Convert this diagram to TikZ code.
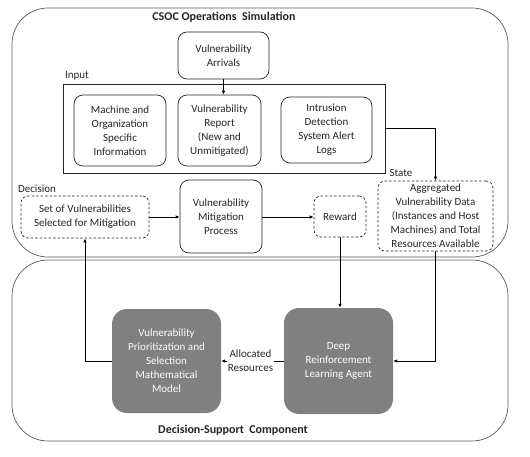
\documentclass[tikz,border=0pt]{standalone}
\usepackage{fontspec}
\setmainfont{Carlito}
\usetikzlibrary{arrows.meta}
\begin{document}
\begin{tikzpicture}[x=1pt,y=-1pt,
  every node/.style={font=\fontsize{11}{14}\selectfont, align=center, inner sep=0pt, text=black!85},
  outer/.style={draw=black!65, line width=0.7pt, rounded corners=36pt},
  rbox/.style={draw=black!85, line width=0.7pt, rounded corners=9pt},
  dbox/.style={draw=black!85, line width=0.7pt, rounded corners=7pt, dash pattern=on 2.5pt off 2pt},
  gbox/.style={fill=black!50, draw=none, rounded corners=15pt, text=white},
  arr/.style={-{Latex[length=4pt,width=3.5pt]}, line width=0.9pt},
  lbl/.style={font=\fontsize{11}{14}\selectfont}
]
\useasboundingbox (0,0) rectangle (530,457);
\fill[white] (0,0) rectangle (530,457);
% outer containers
\node[outer, minimum width=496pt, minimum height=249pt] (top) at (260,132.5) {};
\node[outer, minimum width=496pt, minimum height=181pt] (bot) at (260,350.5) {};
\node[font=\bfseries\fontsize{12}{14}\selectfont] (ttop) at (224,17) {CSOC Operations\ \ Simulation};
\node[font=\bfseries\fontsize{12}{14}\selectfont] (tbot) at (233,430) {Decision-Support\ \ Component};
% input group
\node[draw=black!85, line width=0.8pt, minimum width=322pt, minimum height=89pt] (input) at (224,128.5) {};
\node[lbl] (inputl) at (77,76) {Input};
\node[rbox, minimum width=91pt, minimum height=47pt] (arrivals) at (223.5,55.5) {Vulnerability\\Arrivals};
\node[rbox, minimum width=92pt, minimum height=71pt] (machine) at (120,130.5) {Machine and\\Organization\\Specific\\Information};
\node[rbox, minimum width=83pt, minimum height=71pt] (report) at (219.5,130.5) {Vulnerability\\Report\\(New and\\Unmitigated)};
\node[rbox, minimum width=91pt, minimum height=66pt] (ids) at (326.5,130) {Intrusion\\Detection\\System Alert\\Logs};
% lower row of top
\node[lbl] (statel) at (401,173) {State};
\node[dbox, minimum width=115pt, minimum height=70pt] (state) at (435.5,216) {Aggregated\\Vulnerability Data\\(Instances and Host\\Machines) and Total\\Resources Available};
\node[lbl] (decl) at (37,189) {Decision};
\node[dbox, minimum width=128pt, minimum height=42pt] (set) at (85,217) {Set of Vulnerabilities\\Selected for Mitigation};
\node[rbox, minimum width=82pt, minimum height=73pt] (mitig) at (221,216.5) {Vulnerability\\Mitigation\\Process};
\node[dbox, minimum width=52pt, minimum height=41pt] (reward) at (340,216.5) {Reward};
% bottom
\node[gbox, minimum width=109pt, minimum height=104pt] (vps) at (166.5,361) {Vulnerability\\Prioritization and\\Selection\\Mathematical\\Model};
\node[gbox, minimum width=109pt, minimum height=106pt] (drl) at (338.5,361) {Deep\\Reinforcement\\Learning Agent};
% connectors
\draw[arr] (arrivals.south) -- (arrivals.south |- report.north);
\draw[arr] (input.east) -| (state.north);
\draw[arr] (set.east) -- (mitig.west |- set.east);
\draw[arr] (mitig.east |- set.east) -- (reward.west |- set.east);
\draw[arr] (reward.south) -- (reward.south |- drl.north);
\draw[arr] (state.south) |- (drl.east);
\draw[arr] (drl.west) -- node[fill=white, inner sep=1pt, lbl, xshift=-2pt] (alloc) {Allocated\\Resources} (vps.east);
\coordinate (turn) at (85,361);
\draw[arr] (vps.west) -- (turn) -- (set.south);
\end{tikzpicture}
\end{document}
